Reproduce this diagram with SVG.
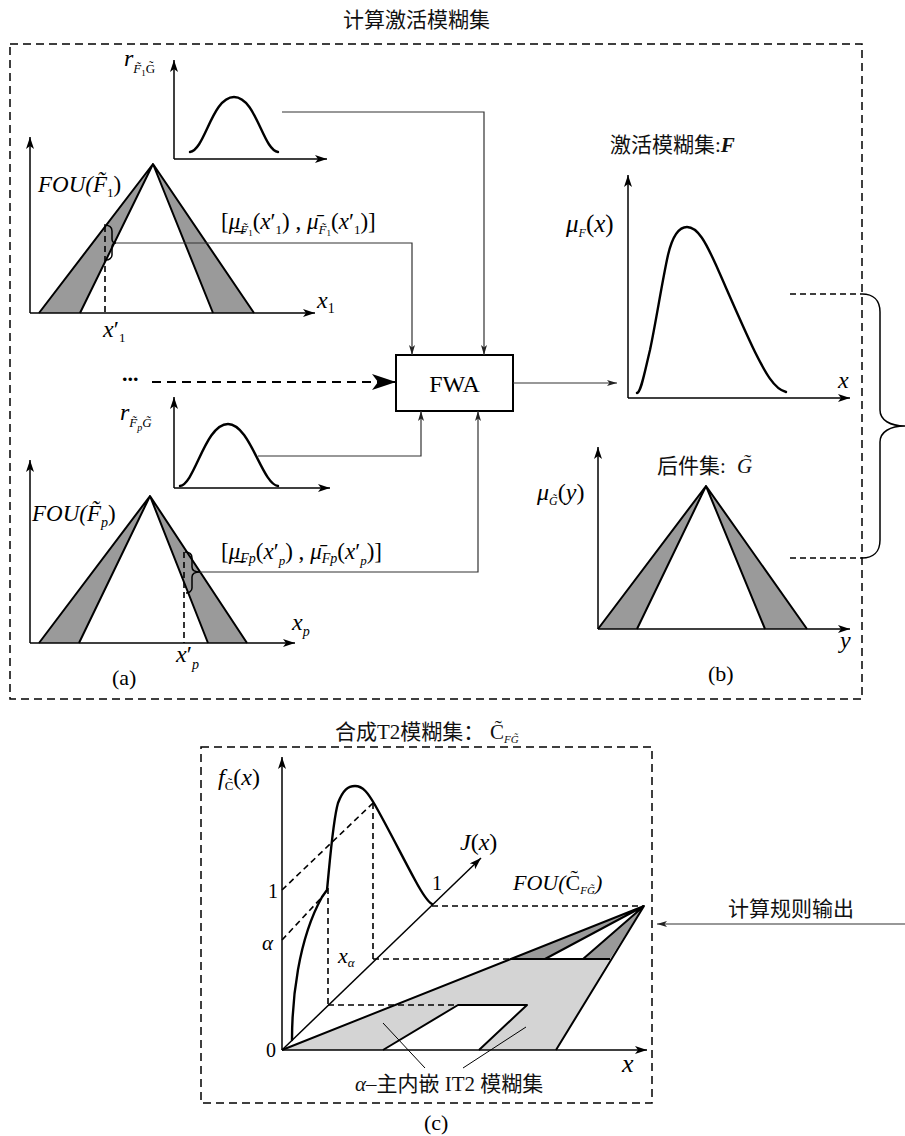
<svg xmlns="http://www.w3.org/2000/svg" width="905" height="1136" viewBox="0 0 905 1136">
<style>
.ax{stroke:#000;stroke-width:1.5;fill:none;marker-end:url(#ax)}
.cv{fill:none;stroke:#000;stroke-width:2.4;stroke-linejoin:round;stroke-linecap:round}
.tri{fill:none;stroke:#000;stroke-width:2;stroke-linejoin:round}
.g1{fill:#9a9a9a;stroke:none}
.g2{fill:#d4d4d4;stroke:none}
.dsh{fill:none;stroke:#000;stroke-width:1.6;stroke-dasharray:6 4}
.frm{fill:none;stroke:#000;stroke-width:1.5;stroke-dasharray:8 5}
.cx{fill:none;stroke:#333;stroke-width:1.2}
.lead{fill:none;stroke:#000;stroke-width:1}
.i{font-family:"Liberation Serif",serif;font-style:italic;fill:#000}
.n{font-family:"Liberation Serif",serif;fill:#000}
.cn{font-family:"Liberation Serif","Noto Sans CJK SC",sans-serif;font-size:21px;fill:#111}
</style>
<defs>
<marker id="ax" viewBox="0 0 12 8" refX="12" refY="4" markerWidth="12" markerHeight="8" orient="auto" markerUnits="userSpaceOnUse"><path d="M0,0 L12,4 L0,8 L3,4 Z" fill="#000"/></marker>
<marker id="ar" viewBox="0 0 10 6" refX="10" refY="3" markerWidth="10" markerHeight="6" orient="auto" markerUnits="userSpaceOnUse"><path d="M0,0 L10,3 L0,6 L2.5,3 Z" fill="#222"/></marker>
<marker id="big" viewBox="0 0 24 16" refX="24" refY="8" markerWidth="24" markerHeight="16" orient="auto" markerUnits="userSpaceOnUse"><path d="M0,0 L24,8 L0,16 L6,8 Z" fill="#000"/></marker>
</defs>
<rect x="0" y="0" width="905" height="1136" fill="#fff"/>

<g id="frame-top">
<rect class="frm" x="10" y="44" width="852" height="655"/>
<text class="cn" x="343" y="27">计算激活模糊集</text>
</g>

<g id="node-rF1">
<line class="ax" x1="174" y1="159" x2="174" y2="60"/>
<line class="ax" x1="174" y1="159" x2="327" y2="159"/>
<path class="cv" d="M190,152 C205,150 212,97 234,97 C256,97 263,150 278,152"/>
<text class="i" x="124" y="66" font-size="24">r<tspan y="73" font-size="13">F&#x303;</tspan><tspan y="76" font-size="9" font-style="normal">1</tspan><tspan y="73" font-size="13" font-style="normal">G&#x303;</tspan></text>
</g>

<g id="node-FOU-F1">
<polygon class="g1" points="39,313 153,164 80,313"/>
<polygon class="g1" points="153,164 254,313 213,313"/>
<path class="tri" d="M39,313 L153,164 L80,313 M213,313 L153,164 L254,313"/>
<line class="ax" x1="30" y1="313" x2="30" y2="137"/>
<line class="ax" x1="30" y1="313" x2="315" y2="313"/>
<line class="dsh" x1="105" y1="226" x2="105" y2="313"/>
<path fill="none" stroke="#000" stroke-width="1.5" d="M104,225 C109,225 112,227 112,231 L112,239 C112,241 113,243 116,243 C113,243 112,245 112,247 L112,255 C112,258 109,260 106,260"/>
<text class="i" x="38" y="192" font-size="23">FOU(F&#x303;<tspan y="197" font-size="13" font-style="normal">1</tspan><tspan y="192" font-style="normal">)</tspan></text>
<text class="n" x="221" y="229" font-size="23">[<tspan font-style="italic">μ&#x332;</tspan><tspan y="234" font-size="13" font-style="italic">F&#x303;</tspan><tspan y="236" font-size="9">1</tspan><tspan y="229">(</tspan><tspan font-style="italic">x</tspan>′<tspan y="234" font-size="13">1</tspan><tspan y="229">) , </tspan><tspan font-style="italic">μ&#x304;</tspan><tspan y="234" font-size="13" font-style="italic">F&#x303;</tspan><tspan y="236" font-size="9">1</tspan><tspan y="229">(</tspan><tspan font-style="italic">x</tspan>′<tspan y="234" font-size="13">1</tspan><tspan y="229">)]</tspan></text>
<text class="i" x="317" y="308" font-size="24">x<tspan y="313" font-size="14" font-style="normal">1</tspan></text>
<text class="i" x="103" y="337" font-size="24">x<tspan font-style="normal">′</tspan><tspan y="342" font-size="13" font-style="normal">1</tspan></text>
</g>

<g id="node-dots">
<text class="n" x="122" y="381" font-size="22" font-weight="bold">...</text>
</g>

<g id="node-rFp">
<line class="ax" x1="174" y1="488" x2="174" y2="397"/>
<line class="ax" x1="174" y1="488" x2="330" y2="488"/>
<path class="cv" d="M180,486 C195,484 205,424 228,424 C250,424 262,484 278,486"/>
<text class="i" x="120" y="420" font-size="24">r<tspan y="427" font-size="13">F&#x303;</tspan><tspan y="431" font-size="10">p</tspan><tspan y="427" font-size="13">G&#x303;</tspan></text>
</g>

<g id="node-FOU-Fp">
<polygon class="g1" points="39,643 150,496 79,643"/>
<polygon class="g1" points="150,496 247,643 208,643"/>
<path class="tri" d="M39,643 L150,496 L79,643 M208,643 L150,496 L247,643"/>
<line class="ax" x1="30" y1="643" x2="30" y2="460"/>
<line class="ax" x1="30" y1="643" x2="295" y2="643"/>
<line class="dsh" x1="184" y1="552" x2="184" y2="643"/>
<path fill="none" stroke="#000" stroke-width="1.5" d="M185,552 C189,552 192,554 192,558 L192,567 C192,570 194,572 200,572 C194,572 192,574 192,577 L192,588 C192,591 189,593 186,593"/>
<text class="i" x="32" y="521" font-size="23">FOU(F&#x303;<tspan y="527" font-size="14">p</tspan><tspan y="521" font-style="normal">)</tspan></text>
<text class="n" x="221" y="559" font-size="23">[<tspan font-style="italic">μ&#x332;</tspan><tspan y="563" font-size="14" font-style="italic">Fp</tspan><tspan y="559">(</tspan><tspan font-style="italic">x</tspan>′<tspan y="565" font-size="13" font-style="italic">p</tspan><tspan y="559">) , </tspan><tspan font-style="italic">μ&#x304;</tspan><tspan y="563" font-size="14" font-style="italic">Fp</tspan><tspan y="559">(</tspan><tspan font-style="italic">x</tspan>′<tspan y="565" font-size="13" font-style="italic">p</tspan><tspan y="559">)]</tspan></text>
<text class="i" x="292" y="630" font-size="24">x<tspan y="636" font-size="14">p</tspan></text>
<text class="i" x="176" y="662" font-size="24">x<tspan font-style="normal">′</tspan><tspan y="669" font-size="14">p</tspan></text>
<text class="n" x="112" y="685" font-size="22">(a)</text>
</g>

<g id="node-FWA">
<rect x="396" y="355" width="117" height="56" fill="#fff" stroke="#000" stroke-width="2"/>
<text class="n" x="454.5" y="392" font-size="24" text-anchor="middle">FWA</text>
</g>

<g id="node-F">
<text class="cn" x="610" y="152">激活模糊集:<tspan font-style="italic" font-weight="bold">F</tspan></text>
<line class="ax" x1="628" y1="398" x2="628" y2="175"/>
<line class="ax" x1="628" y1="398" x2="850" y2="398"/>
<path class="cv" d="M637,393 C641,392 644,375 650,350 C656,322 662,282 668,255 C672,238 678,227 687,227 C698,227 706,243 716,265 C728,292 742,325 755,352 C765,372 774,389 786,392"/>
<text class="i" x="566" y="232" font-size="25">μ<tspan y="237" font-size="12">F</tspan><tspan y="232" font-style="normal">(</tspan>x<tspan font-style="normal">)</tspan></text>
<text class="i" x="838" y="388" font-size="24">x</text>
</g>

<g id="node-G">
<text class="cn" x="657" y="473">后件集: <tspan x="737" font-style="italic">G&#x303;</tspan></text>
<polygon class="g1" points="598,629 706,486 637,629"/>
<polygon class="g1" points="706,486 807,629 765,629"/>
<path class="tri" d="M598,629 L706,486 L637,629 M765,629 L706,486 L807,629"/>
<line class="ax" x1="598" y1="629" x2="598" y2="447"/>
<line class="ax" x1="598" y1="629" x2="850" y2="629"/>
<text class="i" x="537" y="500" font-size="24">μ<tspan y="505" font-size="12">G&#x303;</tspan><tspan y="500" font-style="normal">(</tspan>y<tspan font-style="normal">)</tspan></text>
<text class="i" x="840" y="648" font-size="24">y</text>
<text class="n" x="708" y="681" font-size="22">(b)</text>
</g>

<g id="brace">
<line class="dsh" x1="790" y1="294" x2="862" y2="294"/>
<line class="dsh" x1="790" y1="558" x2="862" y2="558"/>
<path fill="none" stroke="#000" stroke-width="1.5" d="M862,294 C873,294 880,300 880,312 L880,410 C880,420 890,426 905,426 C890,426 880,432 880,442 L880,540 C880,552 873,558 862,558"/>
</g>

<g id="frame-c">
<rect class="frm" x="201" y="747" width="451" height="356"/>
<text class="cn" x="335" y="739">合成T2模糊集：<tspan x="490">C&#x303;</tspan><tspan y="743" font-size="11" font-style="italic">FG&#x303;</tspan></text>
<text class="n" x="424" y="1130" font-size="22">(c)</text>
</g>

<g id="node-C">
<path class="g2" fill-rule="evenodd" d="M282,1050 L510,959 L610,959 L556,1050 Z M383,1050 L458,1005 L527,1005 L479,1050 Z"/>
<polygon class="g1" points="510,959 644,906 545,959"/>
<polygon class="g1" points="583,959 644,906 610,959"/>
<path class="tri" d="M282,1050 L644,906 L556,1050 M510,959 L610,959 M545,959 L644,906 L583,959 M383,1050 L458,1005 L527,1005 L479,1050"/>
<line class="dsh" x1="432" y1="906" x2="644" y2="906"/>
<line class="dsh" x1="373" y1="959" x2="510" y2="959"/>
<line class="dsh" x1="328" y1="1005" x2="470" y2="1005"/>
<line class="dsh" x1="328" y1="888" x2="328" y2="1005"/>
<line class="dsh" x1="373" y1="803" x2="373" y2="959"/>
<line class="dsh" x1="282" y1="890" x2="373" y2="803"/>
<line class="dsh" x1="282" y1="940" x2="323" y2="896"/>
<line class="ax" x1="282" y1="1050" x2="282" y2="757"/>
<line class="ax" x1="282" y1="1050" x2="647" y2="1050"/>
<line class="ax" stroke-width="1.3" x1="282" y1="1050" x2="481" y2="858"/>
<path class="cv" d="M292,1040 C292,1000 298,940 322,897 L327,890 C330,860 333,820 338,803 C343,790 348,786 355,786 C363,786 368,793 375,805 C388,828 402,856 415,880 C422,893 428,902 432,904"/>
<line class="lead" x1="383" y1="1023" x2="425" y2="1068"/>
<line class="lead" x1="526" y1="1027" x2="463" y2="1068"/>
<text class="i" x="218" y="785" font-size="24">f<tspan y="790" font-size="13" font-style="normal">C&#x303;</tspan><tspan y="785" font-style="normal">(</tspan>x<tspan font-style="normal">)</tspan></text>
<text class="n" x="266" y="1057" font-size="20">0</text>
<text class="n" x="268" y="898" font-size="20">1</text>
<text class="i" x="262" y="950" font-size="21">α</text>
<text class="n" x="432" y="890" font-size="20">1</text>
<text class="i" x="460" y="850" font-size="24">J<tspan font-style="normal">(</tspan>x<tspan font-style="normal">)</tspan></text>
<text class="i" x="338" y="963" font-size="22">x<tspan y="967" font-size="13">α</tspan></text>
<text class="i" x="513" y="890" font-size="22">FOU(<tspan font-style="normal">C&#x303;</tspan><tspan y="894" font-size="11">FG&#x303;</tspan><tspan y="890">)</tspan></text>
<text class="i" x="622" y="1072" font-size="26">x</text>
<text class="cn" x="355" y="1091"><tspan font-style="italic">α</tspan>–主内嵌 IT2 模糊集</text>
</g>

<g id="connectors">
<polyline class="cx" points="282,112 484,112 484,355" marker-end="url(#ar)"/>
<polyline class="cx" points="116,243 412,243 412,355" marker-end="url(#ar)"/>
<line x1="152" y1="382" x2="396" y2="382" stroke="#000" stroke-width="2" stroke-dasharray="9 6" marker-end="url(#big)"/>
<polyline class="cx" points="258,456 421,456 421,411" marker-end="url(#ar)"/>
<polyline class="cx" points="200,572 478,572 478,411" marker-end="url(#ar)"/>
<line class="cx" x1="513" y1="383" x2="617" y2="383" marker-end="url(#ar)"/>
<line class="cx" x1="905" y1="924" x2="657" y2="924" marker-end="url(#ar)"/>
<text class="cn" x="728" y="916">计算规则输出</text>
</g>
</svg>
